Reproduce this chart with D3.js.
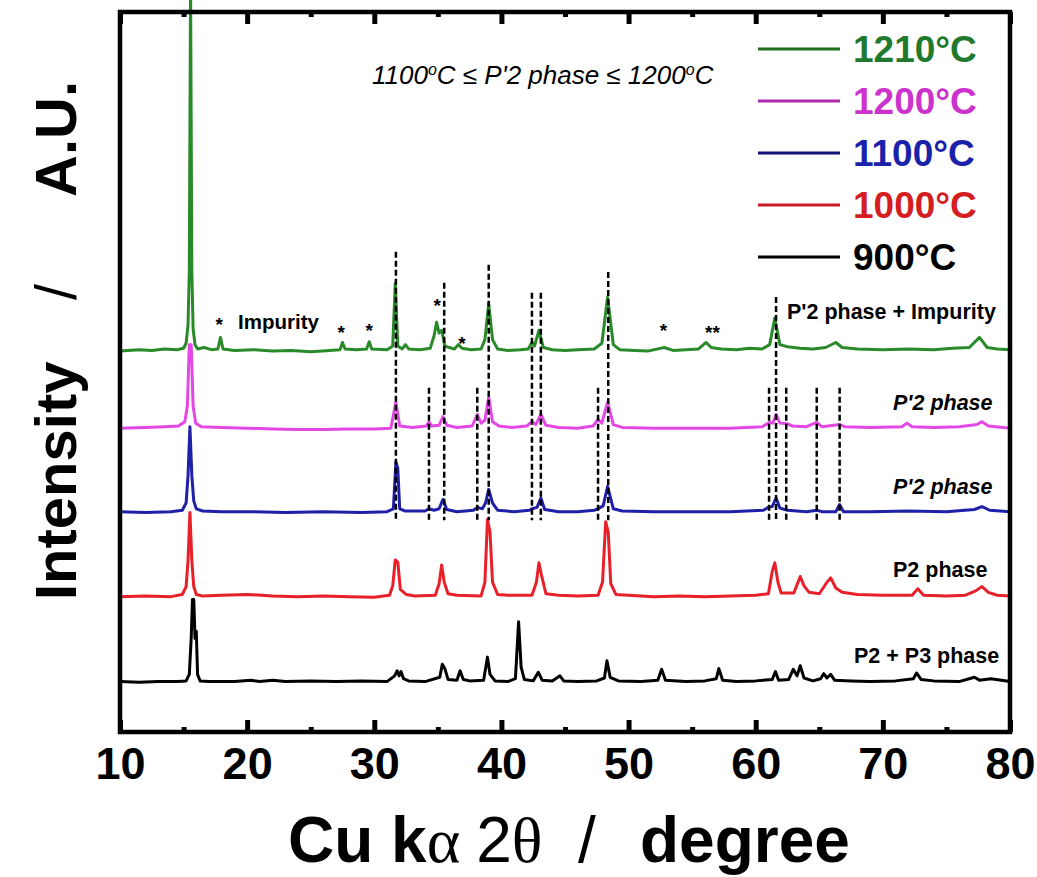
<!DOCTYPE html>
<html>
<head>
<meta charset="utf-8">
<script src="https://cdn.jsdelivr.net/npm/d3@7"></script>
<style>
  html, body { margin: 0; padding: 0; background: #fff; }
  svg { display: block; }
</style>
</head>
<body>
<svg id="chart" width="1037" height="877"></svg>
<script>
// ---------------- DATA ----------------
// 2θ (degree) vs relative intensity (A.U.), one array per sample temperature
const series900 = [[10,10],[11.5,9],[13,10],[14.5,10],[15.2,11],[15.45,20],[15.6,70],[15.7,124],[15.8,124],[15.9,70],[16.0,80],[16.1,20],[16.3,11],[17,10],[19,10],[20.3,12],[21,10],[22,12],[23,10],[25,11],[27,10],[29,11],[31,10],[31.6,18],[31.8,25],[31.95,18],[32.1,24],[32.3,14],[32.7,11],[34,10],[35.15,16],[35.35,34],[35.55,28],[35.8,13],[36.5,12],[36.75,25],[37.0,13],[37.5,11],[38.6,12],[38.9,44],[39.1,20],[39.5,11],[40.5,10],[41.1,14],[41.35,93],[41.55,30],[41.8,13],[42.5,11],[42.9,23],[43.2,12],[44.0,11],[44.6,18],[44.9,11],[46,10],[47.5,11],[48.1,15],[48.3,39],[48.55,16],[49.2,11],[51,10],[52.3,12],[52.6,27],[52.9,12],[54.5,10],[56,11],[56.9,14],[57.1,28],[57.4,12],[58.5,10],[60,11],[61.3,13],[61.55,24],[61.8,12],[62.6,13],[62.95,27],[63.25,18],[63.5,32],[63.8,15],[64.5,11],[65.1,14],[65.35,21],[65.6,15],[65.9,20],[66.2,12],[67.5,11],[69,10],[71,11],[72.4,14],[72.65,22],[73.0,13],[74,11],[76,10],[77.2,16],[77.6,12],[78.5,14],[80,10]];
const series1000 = [[10,10],[12,11],[14,10],[14.9,13],[15.2,24],[15.35,60],[15.5,127],[15.65,60],[15.8,24],[16.0,13],[16.5,11],[18,12],[20,13],[22,11],[24,10],[26,11],[28,10],[30,9],[31.2,12],[31.45,25],[31.65,61],[31.85,58],[32.05,20],[32.5,13],[33.2,11],[34.8,12],[35.1,28],[35.3,54],[35.5,30],[35.8,14],[36.5,12],[38.4,11],[38.7,30],[38.9,117],[39.1,100],[39.3,30],[39.7,13],[40.5,12],[42.4,12],[42.75,30],[42.95,57],[43.15,40],[43.5,14],[44.5,12],[46,11],[47.6,12],[47.95,30],[48.2,114],[48.4,100],[48.6,28],[49,13],[50,12],[52,10],[54,11],[56,10],[58,11],[60,12],[61.0,14],[61.3,45],[61.5,57],[61.75,30],[62,15],[63.0,15],[63.5,38],[63.8,25],[64.2,16],[65.0,14],[65.6,30],[65.9,36],[66.3,22],[66.8,16],[68,13],[70,12],[72.3,12],[72.75,21],[73.2,12],[75,11],[76.5,12],[77.3,18],[77.8,24],[78.3,16],[79,12],[80,11]];
const series1100 = [[10,10],[12,9],[14,10],[14.9,12],[15.2,22],[15.35,60],[15.5,128],[15.65,60],[15.8,25],[16.0,14],[16.5,11],[18,10],[20,10],[23,9],[26,10],[29,9],[31.0,10],[31.5,14],[31.7,79],[31.85,70],[32.0,14],[32.4,11],[34.0,11],[34.3,14],[34.7,12],[35.1,14],[35.4,27],[35.7,13],[36.5,10],[37.8,12],[38.1,16],[38.5,14],[38.75,22],[39.0,41],[39.3,22],[39.7,12],[41,10],[42.2,12],[42.4,14],[42.8,16],[43.1,29],[43.4,13],[44.5,10],[46,10],[47.3,12],[47.6,14],[48.0,18],[48.35,45],[48.8,14],[49.5,11],[52,10],[55,10],[58,10],[60.6,12],[61.0,16],[61.3,17],[61.6,29],[61.9,15],[62.5,12],[64,10],[64.8,12],[65.2,10],[66.3,10],[66.6,20],[66.9,10],[69,10],[72,11],[75,10],[77.2,13],[77.8,17],[78.4,12],[80,10]];
const series1200 = [[10,9],[12,10],[13.5,11],[14.6,12],[15.1,18],[15.3,40],[15.45,125],[15.6,125],[15.75,40],[15.95,16],[16.4,11],[18,10],[20,9],[22,8],[24,7],[26,7],[28,8],[30,8],[31.3,9],[31.7,45],[32.0,12],[33,10],[34.1,12],[34.3,18],[34.5,12],[35.1,13],[35.4,25],[35.7,13],[36.5,10],[37.7,12],[38.1,28],[38.4,16],[38.7,20],[39.0,52],[39.3,18],[39.8,12],[40.8,10],[42.0,12],[42.4,18],[42.7,14],[43.1,28],[43.5,13],[44.5,10],[46,9],[47.2,12],[47.6,21],[47.9,16],[48.35,45],[48.8,14],[49.5,10],[52,9],[55,9],[58,9],[60.5,11],[61.1,17],[61.35,16],[61.6,28],[61.9,16],[62.5,15],[62.9,12],[64,11],[64.8,17],[65.2,11],[66.6,14],[67,11],[69,10],[71.5,11],[71.9,16],[72.3,11],[74,10],[76,11],[77.4,14],[77.8,18],[78.3,12],[80,9]];
const series1210 = [[10,9],[11.5,11],[12.5,10],[13.5,12],[14.5,11],[15.0,13],[15.2,20],[15.35,45],[15.45,120],[15.55,520],[15.65,120],[15.75,40],[15.9,18],[16.1,12],[16.6,14],[17.2,11],[17.7,12],[17.9,28],[18.1,12],[19,10],[20.5,11],[22,9],[23.5,10],[25,8],[26.5,10],[27.3,11],[27.5,21],[27.7,12],[28.6,11],[29.4,12],[29.6,22],[29.8,12],[31.0,11],[31.45,16],[31.65,103],[31.85,16],[32.2,12],[32.45,18],[32.7,12],[33.6,11],[34.4,13],[34.7,30],[34.9,49],[35.1,34],[35.3,38],[35.55,16],[35.9,14],[36.3,12],[36.6,18],[36.9,13],[37.6,11],[38.4,12],[38.7,25],[39.0,75],[39.3,25],[39.7,12],[40.5,10],[41.5,11],[42.1,12],[42.4,21],[42.6,16],[42.95,38],[43.3,14],[44,11],[45,10],[46,11],[47.3,12],[47.9,20],[48.35,84],[48.8,18],[49.3,11],[50.5,10],[51.5,9],[52.8,14],[53.5,10],[54.5,11],[55.5,12],[56.1,21],[56.5,14],[57.3,12],[58.5,11],[59.5,13],[60.5,12],[61.1,18],[61.5,55],[61.9,18],[62.5,15],[63.5,13],[64.5,12],[65.5,14],[66.3,21],[66.8,14],[68,12],[70,11],[72,12],[74,11],[75.5,13],[76.8,14],[77.6,28],[78.2,14],[79,12],[80,11]];

const temperatures = ["900°C", "1000°C", "1100°C", "1200°C", "1210°C"];
const seriesValues = [series900, series1000, series1100, series1200, series1210];
const stackOffsets = [60, 178, 296, 413, 520];          // vertical offset of each pattern (A.U.)
const phaseLabels = ["P2 + P3 phase", "P2 phase", "P'2 phase", "P'2 phase", "P'2 phase + Impurity"];

// reference lines: [2θ, top (A.U.), bottom (A.U.)]
const refLines = [[31.7,667,294],[35.5,624,294],[39.0,649,294],[42.4,610,294],[43.1,610,294],[48.4,639,294],[61.6,604,292],
                  [34.3,478,292],[38.1,478,292],[47.6,478,292],[61.05,478,292],[62.4,478,292],[64.8,478,292],[66.6,478,292]];
// impurity marks: [2θ, level (A.U.), text]
const impurityMarks = [[17.8,569,"*"],[27.4,558,"*"],[29.6,561,"*"],[34.95,596,"*"],[36.9,543,"*"],[52.75,561,"*"],[56.6,558,"**"]];

const xTicks = [10,20,30,40,50,60,70,80];
const xMinorTicks = [15,25,35,45,55,65,75];
const xDomain = [10, 80];
const yDomain = [0, 1000];

// ---------------- STYLE ----------------
const traceColors  = ["#000000", "#e8202a", "#1f1fa8", "#e448e4", "#2a8a2a"];
const legendLine   = ["#000000", "#c81c24", "#14147a", "#b02ab0", "#1e6e1e"];
const legendText   = ["#000000", "#d41e22", "#1a22aa", "#cc33cc", "#1f7a2e"];
const labelItalic  = [false, false, true, true, false];

const svg = d3.select("#chart");
const L = 120, R = 1010, T = 12, B = 732;
const x = d3.scaleLinear().domain(xDomain).range([L, R]);
const y = d3.scaleLinear().domain(yDomain).range([B, T]);

// traces
const line = d3.line().x(d => x(d[0])).y(d => y(d[1]));
seriesValues.forEach((s, i) => {
  svg.append("path")
    .datum(s.map(p => [p[0], p[1] + stackOffsets[i]]))
    .attr("d", line)
    .attr("fill", "none")
    .attr("stroke", traceColors[i])
    .attr("stroke-width", 3)
    .attr("stroke-linejoin", "round");
});

// dashed reference lines
svg.append("g").selectAll("line").data(refLines).join("line")
  .attr("x1", d => x(d[0])).attr("x2", d => x(d[0]))
  .attr("y1", d => y(d[1])).attr("y2", d => y(d[2]))
  .attr("stroke", "#000").attr("stroke-width", 2.5)
  .attr("stroke-dasharray", "6,3");

// impurity asterisks
svg.append("g").selectAll("text").data(impurityMarks).join("text")
  .attr("x", d => x(d[0])).attr("y", d => y(d[1]) + 9)
  .attr("text-anchor", "middle")
  .attr("font-family", "Liberation Sans, Arial, sans-serif")
  .attr("font-size", 19).attr("font-weight", "bold")
  .text(d => d[2]);

// "Impurity" label
svg.append("text").attr("x", 238).attr("y", 329)
  .attr("font-family", "Liberation Sans, Arial, sans-serif")
  .attr("font-size", 20.5).attr("font-weight", "bold").text("Impurity");

// phase labels at right
const labelPos = [[854, 663], [893, 577], [893, 494], [893, 410], [787, 319]];
phaseLabels.forEach((t, i) => {
  svg.append("text").attr("x", labelPos[i][0]).attr("y", labelPos[i][1])
    .attr("font-family", "Liberation Sans, Arial, sans-serif")
    .attr("font-size", 21.5).attr("font-weight", "bold")
    .attr("font-style", labelItalic[i] ? "italic" : "normal")
    .text(t);
});

// annotation
const ann = svg.append("text").attr("x", 372).attr("y", 84)
  .attr("font-family", "Liberation Sans, Arial, sans-serif")
  .attr("font-size", 26).attr("font-style", "italic");
ann.append("tspan").text("1100");
ann.append("tspan").attr("dy", -9).attr("font-size", 16).text("o");
ann.append("tspan").attr("dy", 9).text("C ≤ P'2 phase ≤ 1200");
ann.append("tspan").attr("dy", -9).attr("font-size", 16).text("o");
ann.append("tspan").attr("dy", 9).text("C");

// legend (top to bottom: 1210 ... 900)
const legendOrder = [4, 3, 2, 1, 0];
legendOrder.forEach((si, k) => {
  const cy = 49 + k * 52;
  svg.append("line").attr("x1", 758).attr("x2", 840).attr("y1", cy).attr("y2", cy)
    .attr("stroke", legendLine[si]).attr("stroke-width", 2.8);
  svg.append("text").attr("x", 853).attr("y", cy + 13)
    .attr("font-family", "Liberation Sans, Arial, sans-serif")
    .attr("font-size", 37).attr("font-weight", "bold")
    .attr("fill", legendText[si]).text(temperatures[si]);
});

// axes (ticks pointing inward)
function styleAxis(g) {
  g.select(".domain").remove();
  g.selectAll(".tick line").attr("stroke", "#000").attr("stroke-width", 5);
}
svg.append("g").attr("transform", `translate(0,${B})`)
  .call(d3.axisBottom(x).tickValues(xTicks).tickSizeInner(-12).tickSizeOuter(0).tickPadding(15).tickFormat(d3.format("d")))
  .call(styleAxis)
  .call(g => g.selectAll("text").attr("font-family", "Liberation Sans, Arial, sans-serif")
    .attr("font-size", 45).attr("font-weight", "bold").attr("fill", "#000"));
svg.append("g").attr("transform", `translate(0,${B})`)
  .call(d3.axisBottom(x).tickValues(xMinorTicks).tickSizeInner(-5).tickSizeOuter(0).tickFormat(""))
  .call(styleAxis);
svg.append("g").attr("transform", `translate(0,${T})`)
  .call(d3.axisTop(x).tickValues(xTicks).tickSizeInner(-12).tickSizeOuter(0).tickFormat(""))
  .call(styleAxis);
svg.append("g").attr("transform", `translate(0,${T})`)
  .call(d3.axisTop(x).tickValues(xMinorTicks).tickSizeInner(-5).tickSizeOuter(0).tickFormat(""))
  .call(styleAxis);

// frame
svg.append("rect").attr("x", L).attr("y", T).attr("width", R - L).attr("height", B - T)
  .attr("fill", "none").attr("stroke", "#000").attr("stroke-width", 4.5);

// x-axis title
const xt = svg.append("text").attr("y", 862)
  .attr("font-family", "Liberation Sans, Arial, sans-serif")
  .attr("font-size", 64).attr("font-weight", "bold").attr("fill", "#000");
xt.append("tspan").attr("x", 288).text("Cu k");
xt.append("tspan").attr("font-family", "Liberation Serif, Times New Roman, serif").attr("font-weight", "normal").text("α ");
xt.append("tspan").attr("font-weight", "normal").text("2");
xt.append("tspan").attr("font-family", "Liberation Serif, Times New Roman, serif").attr("font-weight", "normal").text("θ");
xt.append("tspan").attr("x", 578).attr("font-weight", "normal").text("/");
xt.append("tspan").attr("x", 640).text("degree");

// y-axis title
const yt = svg.append("text").attr("transform", "translate(76,0) rotate(-90)")
  .attr("font-family", "Liberation Sans, Arial, sans-serif")
  .attr("font-size", 58).attr("font-weight", "bold").attr("fill", "#000");
yt.append("tspan").attr("x", -600).text("Intensity");
yt.append("tspan").attr("x", -300).attr("font-weight", "normal").text("/");
yt.append("tspan").attr("x", -197).text("A.U.");
</script>
</body>
</html>
